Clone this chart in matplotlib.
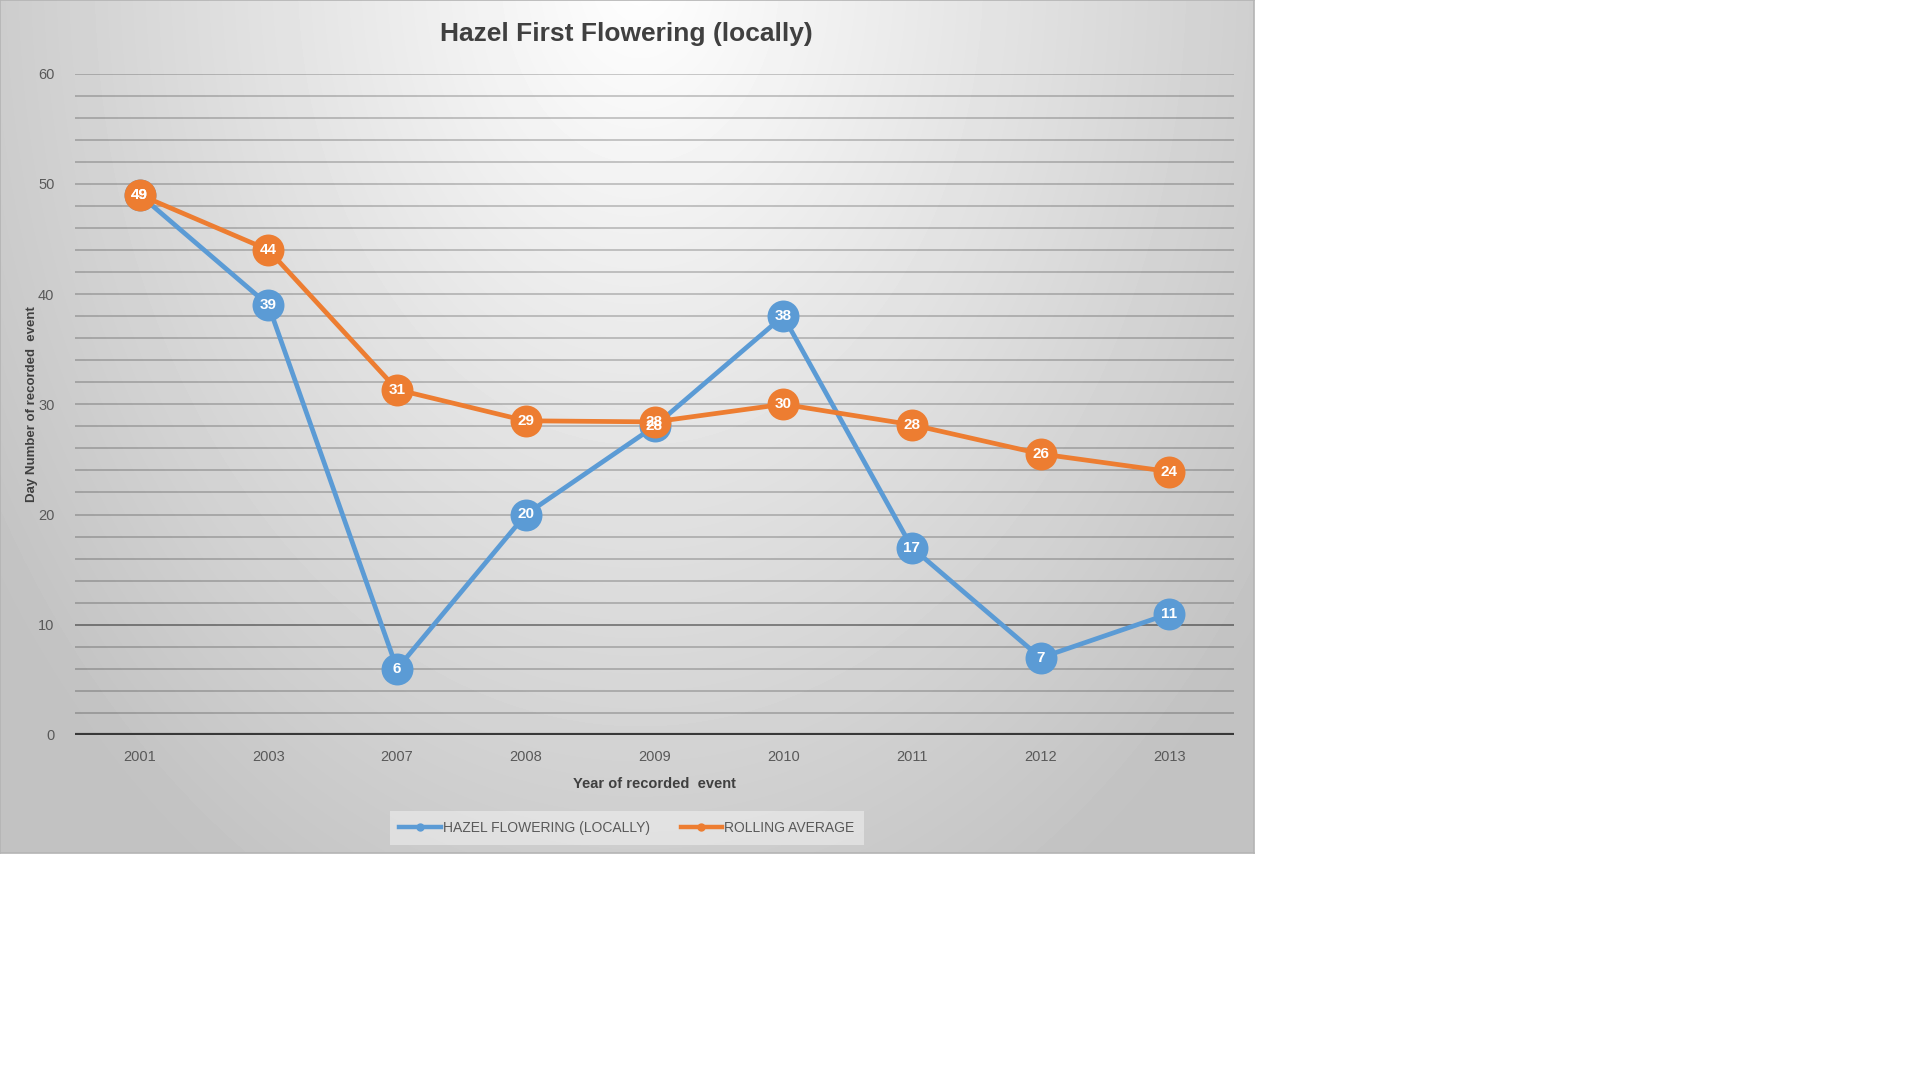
import numpy as np
import matplotlib
matplotlib.use("Agg")
import matplotlib.pyplot as plt
from matplotlib.lines import Line2D

# ---- data ----
years = ["2001", "2003", "2007", "2008", "2009", "2010", "2011", "2012", "2013"]
hazel = [49, 39, 6, 20, 28, 38, 17, 7, 11]
rolling = [49, 44, 31.33, 28.5, 28.4, 30, 28.14, 25.5, 23.89]
y_ticks = [0, 10, 20, 30, 40, 50, 60]

title = "Hazel First Flowering (locally)"
xlabel = "Year of recorded  event"
ylabel = "Day Number of recorded  event"
legend_labels = ["HAZEL FLOWERING (LOCALLY)", "ROLLING AVERAGE"]

BLUE = "#5B9BD5"
ORANGE = "#ED7D31"
plt.rcParams["font.family"] = ["Liberation Sans", "DejaVu Sans"]

W, H = 1920, 1080
fig = plt.figure(figsize=(W / 100, H / 100), dpi=100)
fig.patch.set_facecolor("white")

# ---- chart area background with radial gradient ----
bw, bh = 1254, 853
bg = fig.add_axes([0, 1 - bh / H, bw / W, bh / H])
yy, xx = np.mgrid[0:bh, 0:bw]
d = np.sqrt(((xx - 640) / 650.0) ** 2 + ((yy + 30) / 900.0) ** 2)
val = 1 - 0.2 * np.clip(d, 0, 1.2)
bg.imshow(val, cmap="gray", vmin=0, vmax=1, aspect="auto", interpolation="bilinear")
bg.set_xticks([]); bg.set_yticks([])
for s in bg.spines.values():
    s.set_color("#b4b4b4"); s.set_linewidth(1.2)

# ---- main axes ----
left, right = 75.3, 1233.7
top, bottom = 73.5, 735
ax = fig.add_axes([left / W, 1 - bottom / H, (right - left) / W, (bottom - top) / H])
ax.set_facecolor("none")
x = np.arange(len(years))
ax.set_xlim(-0.5, len(years) - 0.5)
ax.set_ylim(0, 60)

for g in np.arange(2, 61, 2):
    a = 0.42 if g == 10 else 0.2
    ax.axhline(g, color="black", alpha=a, lw=1.4, zorder=1)
ax.axhline(0, color="#383838", lw=3.0, zorder=2)

ax.plot(x, hazel, color=BLUE, lw=3.4, marker="o", markersize=23, zorder=3,
        markeredgewidth=0)
ax.plot(x, rolling, color=ORANGE, lw=3.4, marker="o", markersize=23, zorder=4,
        markeredgewidth=0)

def lab(v):
    return str(int(np.floor(v + 0.5)))

for xi, v in zip(x, hazel):
    ax.text(xi, v, lab(v), color="white", ha="center", va="center", fontsize=11,
            fontweight="bold", zorder=5)
for xi, v in zip(x, rolling):
    ax.text(xi, v, lab(v), color="white", ha="center", va="center", fontsize=11,
            fontweight="bold", zorder=6)

ax.set_xticks(x)
ax.set_xticklabels(years)
ax.set_yticks(y_ticks)
ax.tick_params(axis="both", length=0, labelsize=10.5, colors="#595959")
ax.tick_params(axis="x", pad=11)
ax.tick_params(axis="y", pad=15)
for s in ax.spines.values():
    s.set_visible(False)

ax.set_xlabel(xlabel, fontsize=10.5, fontweight="bold", color="#404040", labelpad=9)
ax.set_ylabel(ylabel, fontsize=9.5, fontweight="bold", color="#404040")
ax.yaxis.set_label_coords(-0.032, 0.5)

fig.text(626 / W, 1 - 34 / H, title, ha="center", va="center", fontsize=19,
         fontweight="bold", color="#404040")

handles = [Line2D([0], [0], color=BLUE, lw=3.2, marker="o", markersize=5),
           Line2D([0], [0], color=ORANGE, lw=3.2, marker="o", markersize=5)]
leg = fig.legend(handles, legend_labels, loc="center", ncol=2,
                 bbox_to_anchor=(627 / W, 1 - 828 / H), frameon=True,
                 fontsize=10, handlelength=3.0, handletextpad=0.15,
                 columnspacing=2.2, borderpad=0.7, labelcolor="#595959")
leg.get_frame().set_facecolor("white")
leg.get_frame().set_alpha(0.4)
leg.get_frame().set_edgecolor("none")
leg.get_frame().set_boxstyle("square", pad=0)

fig.savefig("out.png", dpi=100, facecolor="white")
